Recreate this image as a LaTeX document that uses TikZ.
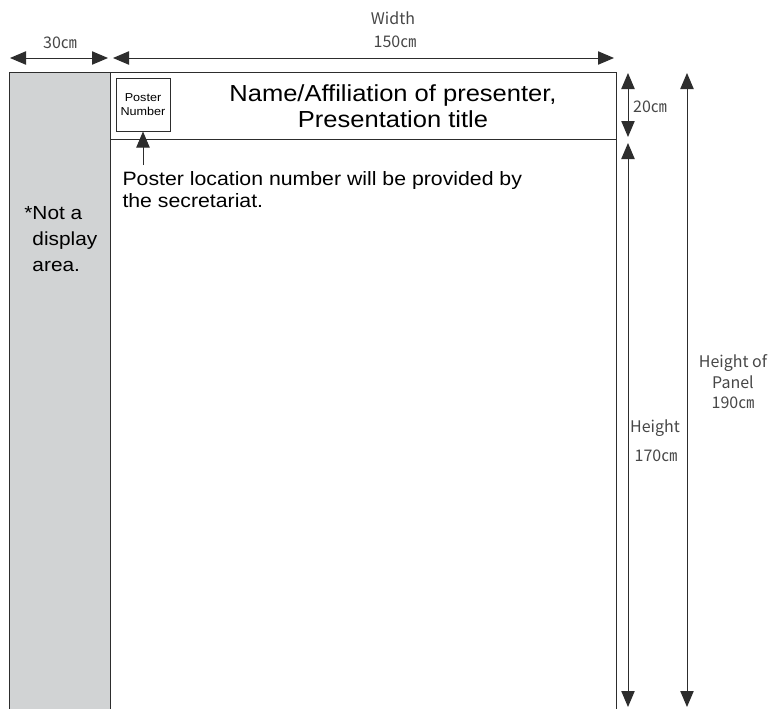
\documentclass[tikz,border=0pt]{standalone}
\usepackage{fontspec}
\setmainfont{Liberation Sans}[FakeStretch=1.1]
\newfontfamily\cjk{Noto Sans CJK JP}
\usepackage{xcolor}
\usetikzlibrary{arrows.meta, positioning}
\definecolor{areagray}{RGB}{209,211,212}
\definecolor{linegray}{RGB}{45,45,45}

\begin{document}
\begin{tikzpicture}[x=0.75pt, y=-0.75pt, line width=0.75pt, draw=linegray,
  dim/.style={{Triangle[length=12pt,width=10pt]}-{Triangle[length=12pt,width=10pt]}, linegray},
  up/.style={-{Triangle[length=12pt,width=10pt]}, linegray},
  dimtext/.style={font=\cjk\fontsize{12}{15.4}\selectfont, text=black!72, align=center, inner sep=0pt}]
\useasboundingbox (0,0) rectangle (768,708);

% panel and display area
\draw[linegray, fill=areagray] (9,72) rectangle (110,715);
\draw[linegray] (110,72) rectangle (616,715);
\draw[linegray] (110,139) -- (616,139);

% header
\node[draw=linegray, minimum width=40.5pt, minimum height=39.75pt, inner sep=0pt, align=center,
  font=\fontsize{8.6}{10}\selectfont] (posnum) at (143,104.5) {Poster\\Number};
\node[align=center, font=\fontsize{17.4}{19.5}\selectfont] (title) at (393,106) {Name/Affiliation of presenter,\\Presentation title};

% note below the header
\node[anchor=north west, align=left, inner sep=0pt, font=\fontsize{14.5}{16.5}\selectfont] (note) at (122,171) {Poster location number will be provided by\\the secretariat.};
\coordinate (notefoot) at (143,165);
\draw[up] (notefoot) -- (posnum.south);

\node[anchor=north west, align=left, inner sep=0pt, font=\fontsize{14.2}{19.5}\selectfont] (nodisplay) at (32,206) {\llap{*}Not a\\display\\area.};

% dimensions across the top
\coordinate (a0) at (10,58);
\coordinate (a1) at (108,58);
\draw[dim] (a0) -- (a1);
\node[dimtext] (alabel) at (60,43) {30㎝};

\coordinate (w0) at (113,58);
\coordinate (w1) at (614,58);
\draw[dim] (w0) -- (w1);
\node[dimtext] (wlabel) at (393,18) {Width};
\node[dimtext] (wvalue) at (395,42) {150㎝};

% dimensions on the right
\coordinate (h0) at (628,73);
\coordinate (h1) at (628,137);
\draw[dim] (h0) -- (h1);
\node[dimtext] (hlabel) at (650,107) {20㎝};

\coordinate (b0) at (628,143);
\coordinate (b1) at (628,707);
\draw[dim] (b0) -- (b1);
\node[dimtext] (blabel) at (655,428) {Height};
\node[dimtext] (bvalue) at (656,456) {170㎝};

\coordinate (p0) at (687,73);
\coordinate (p1) at (687,707);
\draw[dim] (p0) -- (p1);
\node[dimtext] (plabel) at (733,382) {Height of\\Panel\\190㎝};
\end{tikzpicture}
\end{document}
